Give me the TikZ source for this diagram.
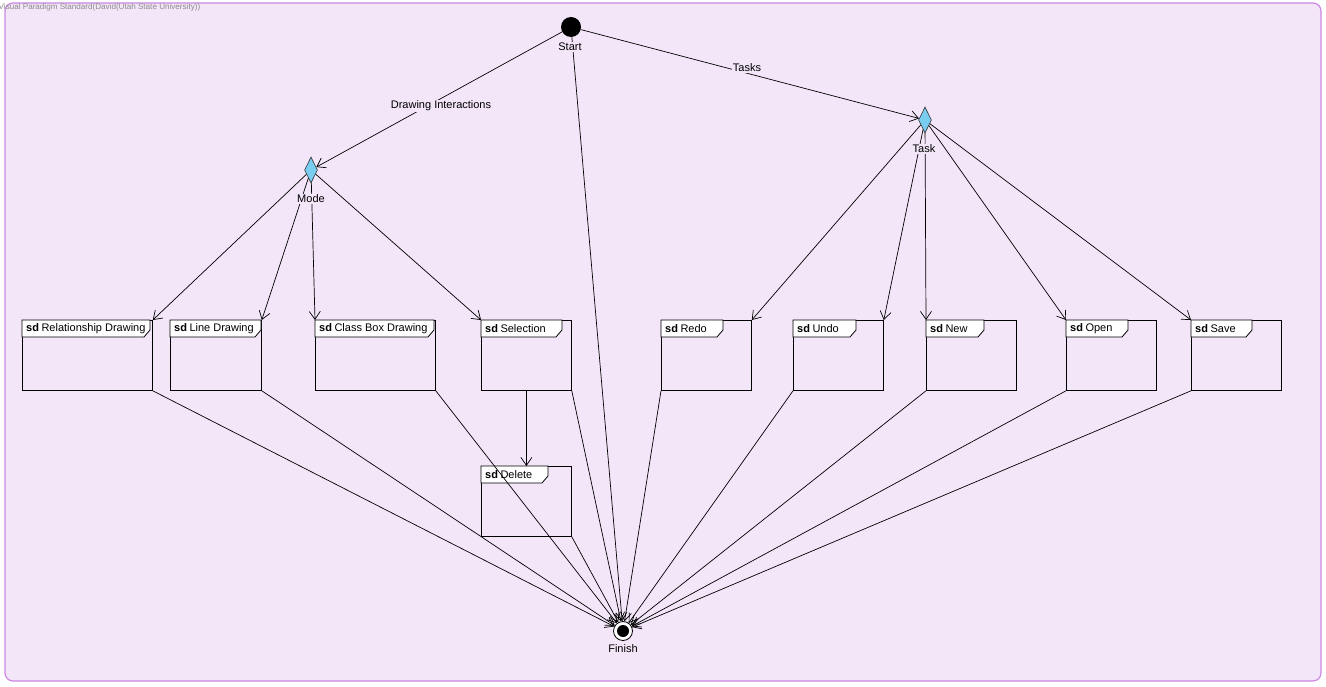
\documentclass[tikz,border=0pt]{standalone}
\usepackage{fontspec}
\setmainfont{Liberation Sans}
\usetikzlibrary{arrows.meta,shapes.geometric,calc}

\definecolor{bgpanel}{RGB}{243,230,248}
\definecolor{panelline}{RGB}{204,136,228}
\definecolor{decfill}{RGB}{120,205,240}
\definecolor{hdrgray}{RGB}{140,140,140}

\tikzset{
  flow/.style={draw=black, line width=0.7pt,
    -{Straight Barb[length=8pt,width=11pt,line width=0.7pt]}},
  sdframe/.style={draw=black, line width=0.8pt, rectangle,
    minimum height=70pt, inner sep=0pt},
  sdtab/.style={draw=black, line width=0.8pt, fill=white},
  lbl/.style={font=\fontsize{11}{13}\selectfont, inner sep=1pt},
  cutlbl/.style={lbl, fill=bgpanel},
  decision/.style={diamond, draw=black!80, line width=0.6pt, fill=decfill,
    shape aspect=0.5, minimum width=13pt, minimum height=26pt, inner sep=0pt},
}

% sequence-diagram frame: name, left x, top y, width, tab width, title
\newcommand\sdbox[6]{%
  \node[sdframe, minimum width=#4pt, anchor=north west] (#1) at (#2,#3) {};
  \draw[sdtab] (#1.north west) -- ++(0,17) -- ++(#5-6,0) -- ++(6,-7)
    -- ++(0,-10) -- cycle;
  \node[lbl, anchor=west] (#1-t) at ($(#1.north west)+(3,9)$)
    {\textbf{sd}\hspace{2.5pt}#6};
}

\begin{document}
\begin{tikzpicture}[x=1pt,y=-1pt]
  \useasboundingbox (0,0) rectangle (1326,687);
  \fill[white] (0,0) rectangle (1326,687);

  % diagram panel
  \draw[panelline, line width=1.2pt, fill=bgpanel, rounded corners=8pt]
    (5,3) rectangle (1321,681);
  \node[anchor=base west, inner sep=0pt, text=hdrgray,
        font=\fontsize{8.1}{9}\selectfont] (hdr) at (-1.5,10)
    {Visual Paradigm Standard(David(Utah State University))};

  % start, decisions, finish
  \node[circle, fill=black, minimum size=20pt, inner sep=0pt] (start) at (571,27) {};
  \node[decision] (mode) at (311,170) {};
  \node[decision] (task) at (925,120) {};
  \node[circle, draw=black, line width=0.8pt, fill=white, minimum size=19pt,
        inner sep=0pt] (fin) at (623,631) {};
  \node[circle, fill=black, minimum size=12pt, inner sep=0pt] (fincore) at (623,631) {};

  % frames
  \sdbox{rd}{22}{320}{130}{128}{Relationship Drawing}
  \sdbox{ld}{170}{320}{91}{91}{Line Drawing}
  \sdbox{cb}{315}{320}{120}{119}{Class Box Drawing}
  \sdbox{sel}{481}{320}{90}{81}{Selection}
  \sdbox{del}{481}{466}{90}{67}{Delete}
  \sdbox{redo}{661}{320}{90}{62}{Redo}
  \sdbox{undo}{793}{320}{90}{63}{Undo}
  \sdbox{new}{926}{320}{90}{58}{New}
  \sdbox{open}{1066}{320}{90}{62}{Open}
  \sdbox{save}{1191}{320}{90}{61}{Save}

  % control flows
  \draw[flow] (start) -- (mode);
  \draw[flow] (start) -- (task);
  \draw[flow] (start) -- (fin);

  \draw[flow] (mode) -- (rd.north east);
  \draw[flow] (mode) -- (ld.north east);
  \draw[flow] (mode) -- (cb.north west);
  \draw[flow] (mode) -- (sel.north west);

  \draw[flow] (task) -- (redo.north east);
  \draw[flow] (task) -- (undo.north east);
  \draw[flow] (task) -- (new.north west);
  \draw[flow] (task) -- (open.north west);
  \draw[flow] (task) -- (save.north west);

  \draw[flow] (sel.south) -- (del.north);

  \draw[flow] (rd.south east) -- (fin);
  \draw[flow] (ld.south east) -- (fin);
  \draw[flow] (cb.south east) -- (fin);
  \draw[flow] (sel.south east) -- (fin);
  \draw[flow] (del.south east) -- (fin);
  \draw[flow] (redo.south west) -- (fin);
  \draw[flow] (undo.south west) -- (fin);
  \draw[flow] (new.south west) -- (fin);
  \draw[flow] (open.south west) -- (fin);
  \draw[flow] (save.south west) -- (fin);

  % labels
  \node[cutlbl] (l-start) at (570,47) {Start};
  \node[cutlbl] (l-mode) at (311,199) {Mode};
  \node[cutlbl] (l-task) at (924,149) {Task};
  \node[cutlbl] (l-fin) at (623,649) {Finish};
  \node[cutlbl] (l-draw) at (441,106) {Drawing Interactions};
  \node[cutlbl] (l-tasks) at (747,68) {Tasks};
\end{tikzpicture}
\end{document}
